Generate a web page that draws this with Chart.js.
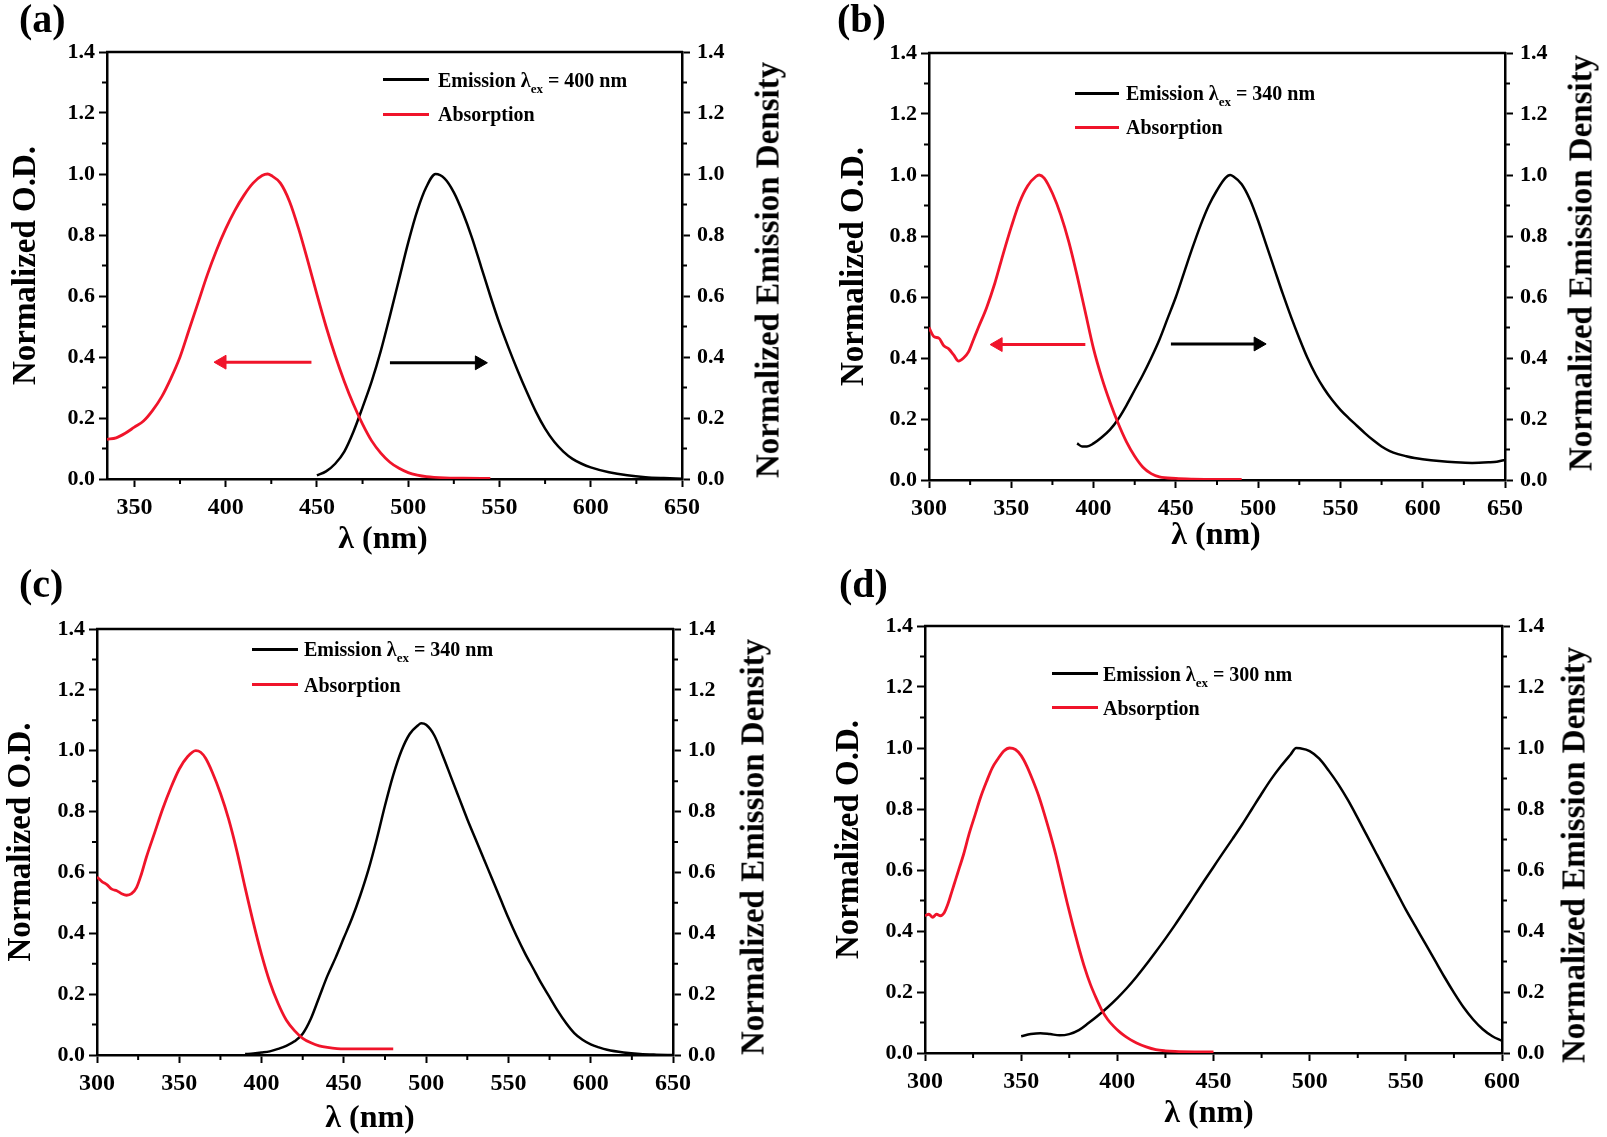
<!DOCTYPE html>
<html>
<head>
<meta charset="utf-8">
<script src="https://cdn.jsdelivr.net/npm/chart.js@4.4.0/dist/chart.umd.min.js"></script>
<style>
  body { margin: 0; background: #fff; }
  #page { position: relative; width: 1607px; height: 1137px; overflow: hidden;
          font-family: 'Liberation Serif', 'Times New Roman', serif; font-weight: bold; color: #000; }
  canvas { position: absolute; }
  .tag { position: absolute; font-size: 40px; line-height: 40px; }
  .leg { position: absolute; font-size: 20px; line-height: 20px; white-space: nowrap; }
  .leg sub { font-size: 13px; vertical-align: -6px; line-height: 0; }
  .swatch { position: absolute; height: 3px; }
  .rtitle { position: absolute; font-size: 33px; line-height: 33px; white-space: nowrap;
            transform: translate(-50%, -50%) rotate(-90deg); }
  .xtitle { position: absolute; font-size: 32px; line-height: 32px; white-space: nowrap;
            transform: translate(-50%, -50%); }
</style>
</head>
<body>
<div id="page">
  <canvas id="ca" width="800" height="560" style="left:0;top:0"></canvas>
  <canvas id="cb" width="807" height="560" style="left:800px;top:0"></canvas>
  <canvas id="cc" width="800" height="577" style="left:0;top:560px"></canvas>
  <canvas id="cd" width="807" height="577" style="left:800px;top:560px"></canvas>

  <!-- panel (a) -->
  <div class="tag" style="left:19px;top:-1px">(a)</div>
  <div class="swatch" style="left:383px;top:78px;width:46px;background:#000"></div>
  <div class="leg" style="left:438px;top:70px">Emission λ<sub>ex</sub> = 400 nm</div>
  <div class="swatch" style="left:383px;top:113px;width:46px;background:#f0142a"></div>
  <div class="leg" style="left:438px;top:104px">Absorption</div>
  <div class="rtitle" style="left:768px;top:270px">Normalized Emission Density</div>
  <div class="xtitle" style="left:383px;top:537px">λ (nm)</div>

  <!-- panel (b) -->
  <div class="tag" style="left:837px;top:-1px">(b)</div>
  <div class="swatch" style="left:1075px;top:92px;width:44px;background:#000"></div>
  <div class="leg" style="left:1126px;top:83px">Emission λ<sub>ex</sub> = 340 nm</div>
  <div class="swatch" style="left:1075px;top:126px;width:44px;background:#f0142a"></div>
  <div class="leg" style="left:1126px;top:117px">Absorption</div>
  <div class="rtitle" style="left:1581px;top:263px">Normalized Emission Density</div>
  <div class="xtitle" style="left:1216px;top:533px">λ (nm)</div>

  <!-- panel (c) -->
  <div class="tag" style="left:19px;top:564px">(c)</div>
  <div class="swatch" style="left:252px;top:648px;width:46px;background:#000"></div>
  <div class="leg" style="left:304px;top:639px">Emission λ<sub>ex</sub> = 340 nm</div>
  <div class="swatch" style="left:252px;top:683px;width:46px;background:#f0142a"></div>
  <div class="leg" style="left:304px;top:675px">Absorption</div>
  <div class="rtitle" style="left:753px;top:847px">Normalized Emission Density</div>
  <div class="xtitle" style="left:370px;top:1116px">λ (nm)</div>

  <!-- panel (d) -->
  <div class="tag" style="left:839px;top:564px">(d)</div>
  <div class="swatch" style="left:1052px;top:672px;width:46px;background:#000"></div>
  <div class="leg" style="left:1103px;top:664px">Emission λ<sub>ex</sub> = 300 nm</div>
  <div class="swatch" style="left:1052px;top:706px;width:46px;background:#f0142a"></div>
  <div class="leg" style="left:1103px;top:698px">Absorption</div>
  <div class="rtitle" style="left:1574px;top:855px">Normalized Emission Density</div>
  <div class="xtitle" style="left:1209px;top:1111px">λ (nm)</div>
</div>

<script>
// ---- data (wavelength in nm, normalized intensity) ----

// (a)
const aAbsX = [335, 340, 345, 350, 355, 360, 365, 370, 375, 380, 385, 390, 395, 400, 405, 410, 415, 420, 423, 425,
  430, 435, 440, 445, 450, 455, 460, 465, 470, 475, 480, 485, 490, 495, 500, 505, 510, 520, 530, 545];
const aAbsY = [0.13, 0.135, 0.15, 0.17, 0.19, 0.225, 0.27, 0.33, 0.40, 0.49, 0.58, 0.67, 0.75, 0.82, 0.88, 0.93, 0.97, 0.995, 1.0, 0.995,
  0.97, 0.91, 0.82, 0.715, 0.605, 0.50, 0.405, 0.32, 0.245, 0.18, 0.125, 0.085, 0.055, 0.035, 0.021, 0.013, 0.008, 0.004, 0.003, 0.002];
const aEmX = [450, 455, 460, 465, 470, 475, 480, 485, 490, 495, 500, 505, 510, 515, 520, 525, 530, 535, 540, 545,
  550, 555, 560, 565, 570, 575, 580, 585, 590, 595, 600, 610, 620, 630, 640, 650];
const aEmY = [0.012, 0.025, 0.05, 0.09, 0.155, 0.235, 0.32, 0.42, 0.535, 0.655, 0.775, 0.88, 0.958, 1.0, 0.985, 0.94, 0.872, 0.79, 0.695, 0.60,
  0.51, 0.43, 0.355, 0.285, 0.22, 0.165, 0.122, 0.09, 0.066, 0.05, 0.038, 0.022, 0.012, 0.006, 0.003, 0.001];
const aRedArrowX = [447, 398];
const aRedArrowY = [0.383, 0.383];
const aBlackArrowX = [490, 539];
const aBlackArrowY = [0.381, 0.381];

// (b)
const bAbsX = [300, 303, 306, 309, 312, 315, 318, 321, 324, 327, 330, 335, 340, 345, 350, 355, 360, 365, 367,
  370, 375, 380, 385, 390, 395, 400, 405, 410, 415, 420, 425, 430, 435, 440, 450, 460, 475, 490];
const bAbsY = [0.50, 0.47, 0.465, 0.44, 0.43, 0.41, 0.39, 0.40, 0.42, 0.46, 0.50, 0.565, 0.645, 0.74, 0.83, 0.91, 0.965, 0.995, 1.0,
  0.99, 0.94, 0.87, 0.78, 0.67, 0.55, 0.43, 0.335, 0.255, 0.185, 0.125, 0.078, 0.042, 0.021, 0.01, 0.005, 0.003, 0.002, 0.002];
const bEmX = [390, 393, 396, 400, 405, 410, 415, 420, 425, 430, 435, 440, 445, 450, 455, 460, 465, 470, 475, 480, 483,
  485, 490, 495, 500, 505, 510, 515, 520, 525, 530, 535, 540, 545, 550, 555, 560, 565, 570, 575, 580, 585, 590, 595, 600,
  610, 620, 630, 640, 645, 650];
const bEmY = [0.12, 0.11, 0.11, 0.12, 0.14, 0.165, 0.2, 0.245, 0.295, 0.345, 0.40, 0.46, 0.53, 0.6, 0.68, 0.76, 0.835, 0.9, 0.95, 0.99, 1.0,
  0.995, 0.97, 0.92, 0.85, 0.77, 0.69, 0.61, 0.535, 0.465, 0.4, 0.345, 0.3, 0.262, 0.23, 0.203, 0.178, 0.153, 0.13, 0.11, 0.095, 0.085, 0.078, 0.072, 0.068,
  0.062, 0.058, 0.056, 0.058, 0.06, 0.066];
const bRedArrowX = [395, 342];
const bRedArrowY = [0.444, 0.444];
const bBlackArrowX = [447, 500];
const bBlackArrowY = [0.446, 0.446];

// (c)
const cAbsX = [300, 303, 306, 309, 312, 315, 318, 321, 324, 327, 330, 335, 340, 345, 350, 355, 360, 363, 366,
  370, 375, 380, 385, 390, 395, 400, 405, 410, 415, 420, 425, 430, 435, 440, 450, 460, 470, 480];
const cAbsY = [0.585, 0.57, 0.56, 0.545, 0.54, 0.53, 0.525, 0.53, 0.55, 0.595, 0.65, 0.73, 0.81, 0.88, 0.94, 0.98, 1.0, 0.995, 0.975,
  0.93, 0.86, 0.775, 0.67, 0.55, 0.435, 0.33, 0.24, 0.17, 0.115, 0.08, 0.055, 0.04, 0.03, 0.025, 0.02, 0.02, 0.02, 0.02];
const cEmX = [390, 395, 400, 405, 410, 415, 420, 425, 430, 435, 440, 445, 450, 455, 460, 465, 470, 475, 480, 485, 490, 495, 497,
  500, 505, 510, 515, 520, 525, 530, 535, 540, 545, 550, 555, 560, 565, 570, 575, 580, 585, 590, 595, 600, 605, 610,
  620, 630, 640, 650];
const cEmY = [0.003, 0.005, 0.008, 0.012, 0.02, 0.03, 0.045, 0.07, 0.12, 0.19, 0.26, 0.32, 0.385, 0.45, 0.525, 0.61, 0.71, 0.82, 0.92, 1.0, 1.055, 1.083, 1.09,
  1.085, 1.05, 0.985, 0.915, 0.845, 0.775, 0.71, 0.645, 0.58, 0.515, 0.45, 0.39, 0.335, 0.285, 0.235, 0.19, 0.145, 0.105, 0.072, 0.05, 0.035, 0.025, 0.017,
  0.008, 0.003, 0.001, 0.0];

// (d)
const dAbsX = [300, 302, 304, 306, 308, 310, 312, 314, 316, 318, 320, 323, 326, 329, 332, 335, 338, 341, 344, 347, 350,
  353, 356, 359, 362, 365, 368, 371, 374, 377, 380, 383, 386, 389, 392, 395, 398, 401, 404, 407, 410,
  415, 420, 425, 430, 440, 450];
const dAbsY = [0.45, 0.455, 0.445, 0.455, 0.45, 0.46, 0.49, 0.53, 0.57, 0.61, 0.65, 0.72, 0.78, 0.84, 0.89, 0.935, 0.965, 0.99, 1.0, 0.995, 0.975,
  0.94, 0.895, 0.845, 0.785, 0.72, 0.65, 0.57, 0.49, 0.415, 0.345, 0.28, 0.225, 0.18, 0.14, 0.11, 0.088, 0.07, 0.055, 0.043, 0.033,
  0.02, 0.011, 0.007, 0.005, 0.004, 0.004];
const dEmX = [350, 355, 360, 365, 370, 375, 380, 385, 390, 395, 400, 405, 410, 415, 420, 425, 430, 435, 440, 445,
  450, 455, 460, 465, 470, 475, 480, 485, 490, 493, 495, 500, 505, 510, 515, 520, 525, 530, 535, 540,
  545, 550, 555, 560, 565, 570, 575, 580, 585, 590, 595, 600];
const dEmY = [0.055, 0.062, 0.065, 0.062, 0.058, 0.062, 0.075, 0.098, 0.123, 0.15, 0.18, 0.213, 0.25, 0.29, 0.332, 0.375, 0.42, 0.467, 0.515, 0.563,
  0.61, 0.657, 0.703, 0.75, 0.8, 0.85, 0.898, 0.94, 0.978, 1.0, 0.999, 0.99, 0.965, 0.925, 0.88, 0.828, 0.77, 0.71, 0.65, 0.59,
  0.53, 0.47, 0.415, 0.36, 0.305, 0.25, 0.198, 0.15, 0.11, 0.078, 0.055, 0.04];

const RED = '#f0142a';
const BLACK = '#000';

Chart.defaults.font.family = "'Liberation Serif', 'Times New Roman', serif";
Chart.defaults.font.weight = 'bold';
Chart.defaults.color = '#000';

// top frame line + short minor ticks (25 nm and 0.1 steps)
const minorTicks = {
  id: 'minorTicks',
  afterDraw(chart) {
    const { ctx, chartArea: area, scales } = chart;
    ctx.save();
    ctx.strokeStyle = '#000';
    ctx.lineWidth = 2.5;
    ctx.beginPath();
    ctx.moveTo(area.left - 1, area.top);
    ctx.lineTo(area.right + 1, area.top);
    ctx.stroke();

    ctx.lineWidth = 2;
    ctx.beginPath();
    const x = scales.x;
    for (let v = Math.ceil(x.min / 25) * 25; v <= x.max; v += 25) {
      if (v % 50 === 0) continue;
      const px = x.getPixelForValue(v);
      ctx.moveTo(px, area.bottom);
      ctx.lineTo(px, area.bottom + 5);
    }
    const y = scales.y;
    for (let k = 1; k < 14; k += 2) {
      const py = y.getPixelForValue(k / 10);
      ctx.moveTo(area.left, py);
      ctx.lineTo(area.left - 5, py);
      ctx.moveTo(area.right, py);
      ctx.lineTo(area.right + 5, py);
    }
    ctx.stroke();
    ctx.restore();
  }
};

const toPoints = (xs, ys) => xs.map((x, i) => ({ x: x, y: ys[i] }));

function arrow(xs, ys, color, rotation) {
  return {
    data: toPoints(xs, ys),
    yAxisID: 'y',
    borderColor: color,
    borderWidth: 3,
    pointStyle: 'triangle',
    pointRadius: [0, 8],
    pointRotation: [0, rotation],
    pointBackgroundColor: color,
    pointBorderColor: color,
    pointBorderWidth: 1,
  };
}

function axisY(position, width, titlePad) {
  return {
    type: 'linear',
    position: position,
    min: 0,
    max: 1.4,
    afterFit: (s) => { s.width = width; },
    border: { display: true, color: '#000', width: 2.5 },
    grid: { display: true, drawOnChartArea: false, drawTicks: true, tickLength: 8, tickWidth: 2, tickColor: '#000' },
    ticks: {
      stepSize: 0.2,
      padding: position === 'left' ? 4 : 7,
      font: { size: 22, weight: 'bold' },
      callback: (v) => v.toFixed(1),
    },
    title: {
      display: position === 'left',
      text: 'Normalized O.D.',
      font: { size: 33, weight: 'bold' },
      padding: { top: titlePad, bottom: 0 },
    },
  };
}

function drawPanel(id, p) {
  const datasets = [
    {
      label: 'Absorption',
      data: toPoints(p.absX, p.absY),
      yAxisID: 'y',
      borderColor: RED,
      borderWidth: 2.8,
      pointRadius: 0,
      cubicInterpolationMode: 'monotone',
    },
    {
      label: 'Emission',
      data: toPoints(p.emX, p.emY),
      yAxisID: 'y2',
      borderColor: BLACK,
      borderWidth: 2.5,
      pointRadius: 0,
      cubicInterpolationMode: 'monotone',
    },
  ].concat(p.arrows || []);

  new Chart(document.getElementById(id), {
    type: 'line',
    data: { datasets: datasets },
    plugins: [minorTicks],
    options: {
      responsive: false,
      animation: false,
      events: [],
      layout: { padding: { top: p.box.top, left: 0, right: 0, bottom: 0 } },
      plugins: { legend: { display: false }, tooltip: { enabled: false } },
      scales: {
        x: {
          type: 'linear',
          min: p.xMin,
          max: p.xMax,
          afterFit: (s) => { s.height = p.box.bottom; },
          border: { display: true, color: '#000', width: 2.5 },
          grid: { display: true, drawOnChartArea: false, drawTicks: true, tickLength: 8, tickWidth: 2, tickColor: '#000' },
          ticks: {
            stepSize: 50,
            includeBounds: false,
            autoSkip: false,
            maxRotation: 0,
            padding: 6,
            font: { size: 24, weight: 'bold' },
            callback: (v) => (v % 50 === 0 ? v : ''),
          },
          // the x title is placed as html text (it sits a little off-centre in the figure)
          title: { display: false },
        },
        y: axisY('left', p.box.left, p.yTitlePad),
        y2: axisY('right', p.box.right, 0),
      },
    },
  });
}

drawPanel('ca', {
  absX: aAbsX, absY: aAbsY, emX: aEmX, emY: aEmY,
  xMin: 335, xMax: 650,
  box: { left: 107, right: 118, top: 52, bottom: 81 },
  yTitlePad: 7,
  arrows: [arrow(aRedArrowX, aRedArrowY, RED, -90), arrow(aBlackArrowX, aBlackArrowY, BLACK, 90)],
});

drawPanel('cb', {
  absX: bAbsX, absY: bAbsY, emX: bEmX, emY: bEmY,
  xMin: 300, xMax: 650,
  box: { left: 129, right: 102, top: 53, bottom: 80 },
  yTitlePad: 35,
  arrows: [arrow(bRedArrowX, bRedArrowY, RED, -90), arrow(bBlackArrowX, bBlackArrowY, BLACK, 90)],
});

drawPanel('cc', {
  absX: cAbsX, absY: cAbsY, emX: cEmX, emY: cEmY,
  xMin: 300, xMax: 650,
  box: { left: 97, right: 127, top: 69, bottom: 82 },
  yTitlePad: 2,
});

drawPanel('cd', {
  absX: dAbsX, absY: dAbsY, emX: dEmX, emY: dEmY,
  xMin: 300, xMax: 600,
  box: { left: 125, right: 105, top: 66, bottom: 84 },
  yTitlePad: 30,
});
</script>
</body>
</html>
